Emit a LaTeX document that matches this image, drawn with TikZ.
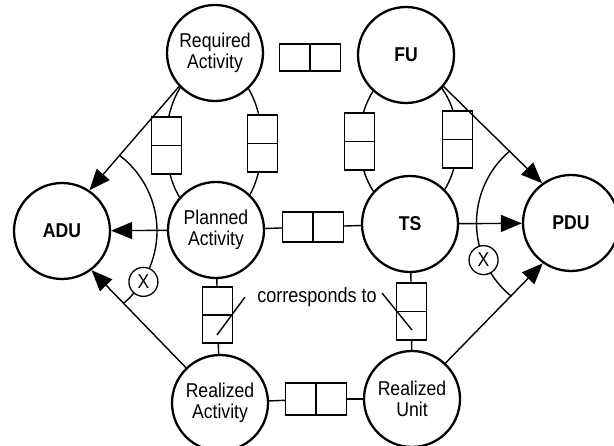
\documentclass[tikz,border=0pt]{standalone}
\usepackage{fontspec}
\setmainfont{Liberation Sans}
\newfontfamily\labfont[FakeStretch=0.88]{Liberation Sans}
\usetikzlibrary{arrows.meta}
\begin{document}
\begin{tikzpicture}[x=1pt,y=-1pt,
  ent/.style={circle,draw,line width=2.3pt,minimum size=96pt,inner sep=0pt,fill=white,align=center,font=\labfont\fontsize{20}{21}\selectfont},
  abbr/.style={ent,font=\labfont\bfseries\fontsize{20}{21}\selectfont},
  ln/.style={line width=1.4pt},
  arr/.style={ln,-{Triangle[length=21pt,width=17pt]}},
  cellbox/.style={draw,line width=1.4pt,fill=white,inner sep=0pt},
  hcell/.style={cellbox,minimum width=61pt,minimum height=29pt},
  vcell/.style={cellbox,minimum width=30pt,minimum height=57pt},
  xmark/.style={circle,draw,line width=1.3pt,fill=white,minimum size=29pt,inner sep=0pt,font=\labfont\fontsize{20}{20}\selectfont},
  note/.style={font=\labfont\fontsize{20.5}{21}\selectfont,inner sep=0pt}
]
\useasboundingbox (0,0) rectangle (614,446);
\fill[white] (0,0) rectangle (614,446);

% rings between the circles
\draw[ln] (214,143) ellipse [x radius=48, y radius=78];
\draw[ln] (408.5,141) ellipse [x radius=49, y radius=72];

% two-cell boxes on the rings
\node[vcell] (e1) at (166.5,145.5) {};
\node[vcell] (e2) at (262.5,143.5) {};
\node[vcell] (e3) at (359.5,141.5) {};
\node[vcell] (e4) at (457.5,139.5) {};
\foreach \b in {e1,e2,e3,e4} \draw[ln] (\b.west) -- (\b.east);

% entities
\node[ent] (RA) at (215,53) {Required\\Activity};
\node[abbr] (FU) at (406,55) {FU};
\node[abbr] (ADU) at (62,231) {ADU};
\node[ent] (PA) at (216,230) {Planned\\Activity};
\node[abbr] (TS) at (410,224) {TS};
\node[abbr] (PDU) at (571,223) {PDU};
\node[ent] (RAc) at (220,403) {Realized\\Activity};
\node[ent] (RU) at (412,399) {Realized\\Unit};

% other two-cell boxes
\node[hcell,minimum height=27pt] (b1) at (310,57.5) {};
\node[hcell,minimum height=30pt] (b2) at (313,227) {};
\node[hcell,minimum height=32pt] (b3) at (316,399) {};
\foreach \b in {b1,b2,b3} \draw[ln] (\b.north) -- (\b.south);
\node[vcell,minimum height=56pt] (v1) at (217.5,315) {};
\node[vcell] (v2) at (411.5,311.5) {};
\foreach \b in {v1,v2} \draw[ln] (\b.west) -- (\b.east);

% plain connectors
\draw[ln] (PA) -- (b2);
\draw[ln] (b2) -- (TS);
\draw[ln] (PA) -- (v1);
\draw[ln] (v1) -- (RAc);
\draw[ln] (TS) -- (v2);
\draw[ln] (v2) -- (RU);
\draw[ln] (RAc) -- (b3);
\draw[ln] (b3) -- (RU);

% arrows to ADU and PDU
\draw[arr] (RA.223) -- (ADU.56);
\draw[arr] (PA) -- (ADU);
\draw[arr] (RAc.134) -- (ADU.307);
\draw[arr] (FU.320) -- (PDU.126);
\draw[arr] (TS) -- (PDU);
\draw[arr] (RU.47) -- (PDU.235);

% exclusion arcs
\draw[ln] (ADU.center) ++(-53:95) arc[start angle=-53, end angle=50, radius=95];
\draw[ln] (PDU.center) ++(230:94.5) arc[start angle=230, end angle=129, radius=94.5];
\node[xmark] (x1) at ([shift={(32:96)}]ADU.center) {X};
\node[xmark] (x2) at ([shift={(157:95)}]PDU.center) {X};

% corresponds to
\node[note] (cor) at (317,297) {corresponds to};
\coordinate (s1a) at (245,297);
\coordinate (s1b) at (217,335);
\coordinate (s2a) at (382,293);
\coordinate (s2b) at (412,330);
\draw[ln] (s1a) -- (s1b);
\draw[ln] (s2a) -- (s2b);
\end{tikzpicture}
\end{document}
